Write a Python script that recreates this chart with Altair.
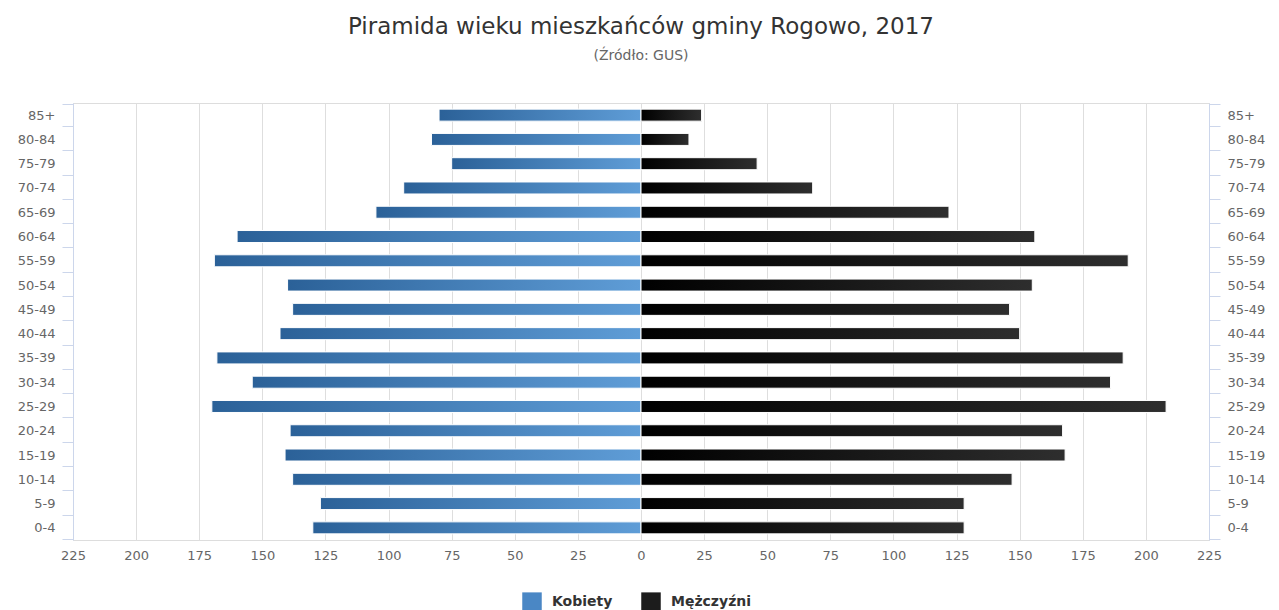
import altair as alt
import pandas as pd

ages = ["0-4", "5-9", "10-14", "15-19", "20-24", "25-29", "30-34", "35-39", "40-44",
        "45-49", "50-54", "55-59", "60-64", "65-69", "70-74", "75-79", "80-84", "85+"]
kobiety = [130, 127, 138, 141, 139, 170, 154, 168, 143, 138, 140, 169, 160, 105, 94, 75, 83, 80]
mezczyzni = [128, 128, 147, 168, 167, 208, 186, 191, 150, 146, 155, 193, 156, 122, 68, 46, 19, 24]
series_names = ["Kobiety", "Mężczyźni"]
x_ticks = list(range(-225, 226, 25))

rows = []
for a, w, m in zip(ages, kobiety, mezczyzni):
    rows.append({"age": a, "sex": series_names[0], "count": w, "signed": -w})
    rows.append({"age": a, "sex": series_names[1], "count": m, "signed": m})
df = pd.DataFrame(rows)

age_order = ages[::-1]

blue_grad = {"gradient": "linear", "x1": 0, "y1": 0, "x2": 1, "y2": 0,
             "stops": [{"offset": 0, "color": "#2b6198"}, {"offset": 1, "color": "#5f9dd7"}]}
black_grad = {"gradient": "linear", "x1": 0, "y1": 0, "x2": 1, "y2": 0,
              "stops": [{"offset": 0, "color": "#000000"}, {"offset": 1, "color": "#2e2e2e"}]}

FONT = "DejaVu Sans"

x_axis = alt.Axis(values=x_ticks, labelExpr="abs(datum.value)", grid=True, gridColor="#dedede",
                  domain=False, ticks=False, labelColor="#666666", labelFontSize=13,
                  labelFont=FONT, labelPadding=9, title=None, labelFlush=False)

def y_axis(orient):
    return alt.Axis(orient=orient, title=None, tickBand="extent", domainColor="#ccd6eb",
                    tickColor="#ccd6eb", tickSize=11, labelColor="#666666", labelFontSize=13,
                    labelFont=FONT, labelPadding=7, grid=False)

legend = alt.Legend(orient="none", legendX=449, legendY=489, direction="horizontal", title=None,
                    symbolType="square", symbolSize=380, labelFontSize=14, labelFont=FONT,
                    labelFontWeight="bold", labelColor="#333333", labelOffset=10,
                    columnPadding=28, padding=0, symbolStrokeWidth=0, symbolOpacity=1)

color_scale = alt.Scale(domain=series_names, range=["#4a87c5", "#1c1c1c"])

def layer(name, grad, orient):
    return alt.Chart(df).transform_filter(alt.datum.sex == name).mark_bar(
        size=12, stroke="#ffffff", strokeWidth=1
    ).encode(
        x=alt.X("signed:Q", scale=alt.Scale(domain=[-225, 225], nice=False, zero=False), axis=x_axis),
        y=alt.Y("age:N", sort=age_order, axis=y_axis(orient)),
        color=alt.Color("sex:N", scale=color_scale, legend=legend,
                        condition={"test": "true", "value": grad}),
    )

women = layer("Kobiety", blue_grad, "left")
men = layer("Mężczyźni", black_grad, "right")

chart = alt.layer(women, men).resolve_axis(y="independent").properties(
    width=1136, height=437,
    autosize=alt.AutoSizeParams(type="none"),
    padding={"left": 65, "top": 95, "right": 62, "bottom": 70},
    title=alt.TitleParams(
        text="Piramida wieku mieszkańców gminy Rogowo, 2017",
        subtitle="(Źródło: GUS)",
        font=FONT, fontSize=23, fontWeight="normal", color="#333333",
        subtitleFont=FONT, subtitleFontSize=14, subtitleColor="#666666",
        anchor="middle", offset=34, subtitlePadding=10,
    ),
).configure_view(stroke=None).configure(background="#ffffff")

chart.save("out.html", embed_options={"renderer": "svg", "actions": False})
